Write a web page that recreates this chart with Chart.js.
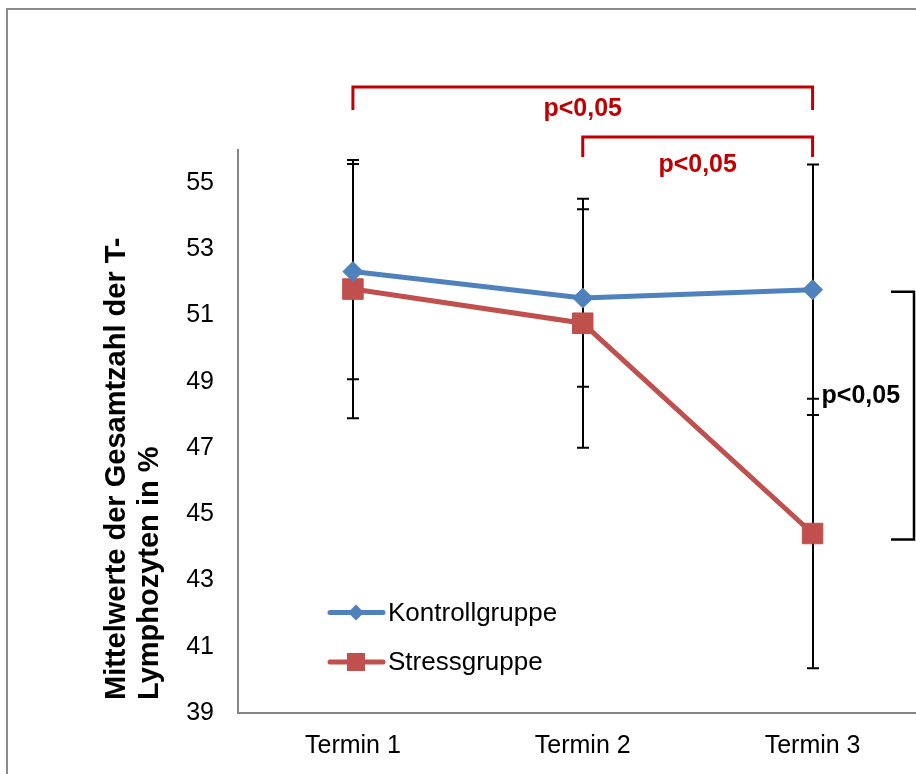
<!DOCTYPE html>
<html><head><meta charset="utf-8">
<script src="https://cdn.jsdelivr.net/npm/chart.js@4.4.1/dist/chart.umd.min.js"></script>
<style>
html,body{margin:0;padding:0;background:#fff;overflow:hidden;width:916px;height:774px;}
#wrap{position:absolute;left:0;top:0;width:943px;height:774px;}
canvas{display:block;}
</style></head><body>
<div id="wrap"><canvas id="c" width="943" height="774" style="width:943px;height:774px"></canvas></div>
<script>
const categories = ['Termin 1', 'Termin 2', 'Termin 3'];
const seriesNames = ['Kontrollgruppe', 'Stressgruppe'];
const kontrollMeans = [52.33, 51.53, 51.78];
const kontrollErrors = [3.25, 2.68, 3.78];
const stressMeans = [51.8, 50.77, 44.42];
const stressErrors = [3.9, 3.76, 4.07];
const yTickValues = [39, 41, 43, 45, 47, 49, 51, 53, 55];
const yTitleLines = ['Mittelwerte der Gesamtzahl der T-', 'Lymphozyten in %'];
const sigLabel = 'p<0,05';

const FONT = "'Liberation Sans', Arial, sans-serif";
const BLUE = '#4F81BD', RED = '#C0504D', SIGRED = '#C00000';

const errorBarPlugin = {
  id: 'errorBars',
  beforeDatasetsDraw(chart) {
    const ctx = chart.ctx, xs = chart.scales.x, ys = chart.scales.y;
    const sets = [[kontrollMeans, kontrollErrors], [stressMeans, stressErrors]];
    ctx.save();
    ctx.strokeStyle = '#000';
    ctx.lineWidth = 2;
    sets.forEach(([m, e]) => {
      m.forEach((v, i) => {
        const x = Math.round(xs.getPixelForValue(i));
        const yt = ys.getPixelForValue(v + e[i]);
        const yb = ys.getPixelForValue(v - e[i]);
        ctx.beginPath();
        ctx.moveTo(x, yt); ctx.lineTo(x, yb);
        ctx.moveTo(x - 6, yt); ctx.lineTo(x + 6, yt);
        ctx.moveTo(x - 6, yb); ctx.lineTo(x + 6, yb);
        ctx.stroke();
      });
    });
    ctx.restore();
  }
};

const decoPlugin = {
  id: 'deco',
  beforeDraw(chart) {
    const ctx = chart.ctx;
    ctx.save();
    ctx.fillStyle = '#fff';
    ctx.fillRect(0, 0, chart.width, chart.height);
    ctx.strokeStyle = '#8c8c8c';
    ctx.lineWidth = 2;
    ctx.strokeRect(7, 9, 2000, 2000);
    ctx.restore();
  },
  afterDraw(chart) {
    const ctx = chart.ctx, xs = chart.scales.x, ys = chart.scales.y;
    ctx.save();
    // y axis title
    ctx.fillStyle = '#000';
    ctx.font = 'bold 29px ' + FONT;
    ctx.textAlign = 'left';
    ctx.textBaseline = 'alphabetic';
    [125, 158].forEach((bx, k) => {
      ctx.save();
      ctx.translate(bx, 700);
      ctx.rotate(-Math.PI / 2);
      ctx.fillText(yTitleLines[k], 0, 0);
      ctx.restore();
    });
    // legend
    const legendY = [612.5, 662];
    const styles = [{ c: BLUE, shape: 'diamond' }, { c: RED, shape: 'square' }];
    styles.forEach((s, k) => {
      const y = legendY[k];
      ctx.strokeStyle = s.c; ctx.fillStyle = s.c;
      ctx.lineWidth = 5; ctx.lineCap = 'round';
      ctx.beginPath(); ctx.moveTo(330, y); ctx.lineTo(383, y); ctx.stroke();
      const cx = 356;
      if (s.shape === 'diamond') {
        ctx.beginPath();
        ctx.moveTo(cx - 8, y); ctx.lineTo(cx, y - 8); ctx.lineTo(cx + 8, y); ctx.lineTo(cx, y + 8);
        ctx.closePath(); ctx.fill();
      } else {
        ctx.fillRect(cx - 9, y - 9, 18, 18);
      }
      ctx.fillStyle = '#000';
      ctx.font = '26px ' + FONT;
      ctx.textBaseline = 'middle';
      ctx.textAlign = 'left';
      ctx.fillText(seriesNames[k], 388, y + 1);
    });
    ctx.lineCap = 'butt';
    // red significance brackets
    const x1 = xs.getPixelForValue(0), x2 = xs.getPixelForValue(1), x3 = xs.getPixelForValue(2);
    ctx.strokeStyle = SIGRED; ctx.fillStyle = SIGRED; ctx.lineWidth = 3;
    ctx.beginPath();
    ctx.moveTo(x1, 110); ctx.lineTo(x1, 87); ctx.lineTo(x3, 87); ctx.lineTo(x3, 110);
    ctx.stroke();
    ctx.beginPath();
    ctx.moveTo(x2, 157); ctx.lineTo(x2, 137); ctx.lineTo(x3, 137); ctx.lineTo(x3, 157);
    ctx.stroke();
    ctx.font = 'bold 25px ' + FONT;
    ctx.textAlign = 'center'; ctx.textBaseline = 'alphabetic';
    ctx.fillText(sigLabel, (x1 + x3) / 2, 116);
    ctx.fillText(sigLabel, (x2 + x3) / 2, 172);
    // black bracket at Termin 3
    const yTop = ys.getPixelForValue(kontrollMeans[2]) + 2;
    const yBot = ys.getPixelForValue(stressMeans[2]) + 6;
    ctx.strokeStyle = '#000'; ctx.fillStyle = '#000'; ctx.lineWidth = 2.5;
    ctx.beginPath();
    ctx.moveTo(891, yTop); ctx.lineTo(914, yTop); ctx.lineTo(914, yBot); ctx.lineTo(891, yBot);
    ctx.stroke();
    ctx.textAlign = 'left';
    ctx.fillText(sigLabel, x3 + 9, 403);
    ctx.restore();
  }
};

new Chart(document.getElementById('c'), {
  type: 'line',
  data: {
    labels: categories,
    datasets: [
      {
        label: seriesNames[0], data: kontrollMeans,
        borderColor: BLUE, backgroundColor: BLUE, borderWidth: 5,
        pointStyle: 'rectRot', pointRadius: 10, pointBorderWidth: 1,
        pointBackgroundColor: BLUE, pointBorderColor: BLUE, tension: 0, fill: false
      },
      {
        label: seriesNames[1], data: stressMeans,
        borderColor: RED, backgroundColor: RED, borderWidth: 5,
        pointStyle: 'rect', pointRadius: 14.5, pointBorderWidth: 1,
        pointBackgroundColor: RED, pointBorderColor: RED, tension: 0, fill: false
      }
    ]
  },
  options: {
    responsive: false,
    maintainAspectRatio: false,
    animation: false,
    events: [],
    devicePixelRatio: 1,
    layout: { padding: { top: 150, bottom: 13, left: 0, right: 0 } },
    plugins: { legend: { display: false }, tooltip: { enabled: false }, title: { display: false } },
    scales: {
      x: {
        type: 'category', offset: true,
        grid: { display: false, drawTicks: false },
        border: { display: true, color: '#868686', width: 2 },
        ticks: { color: '#000', font: { family: FONT, size: 25 }, padding: 18, maxRotation: 0, autoSkip: false },
        afterFit(s) { s.height = 48; }
      },
      y: {
        min: 39, max: 56,
        grid: { display: false, drawTicks: false },
        border: { display: true, color: '#868686', width: 2 },
        ticks: { color: '#000', font: { family: FONT, size: 25 }, padding: 24 },
        afterBuildTicks(s) { s.ticks = yTickValues.map(v => ({ value: v })); },
        afterFit(s) { s.width = 238; }
      }
    }
  },
  plugins: [errorBarPlugin, decoPlugin]
});
</script>
</body></html>
